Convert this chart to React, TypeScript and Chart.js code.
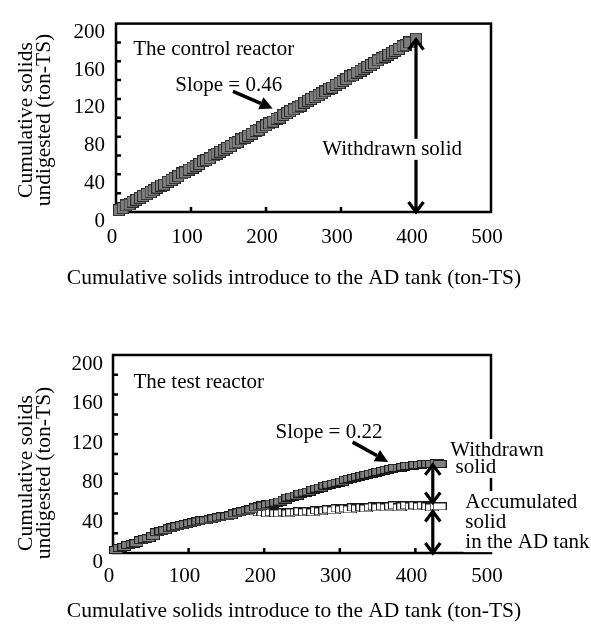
import React, { useEffect, useRef } from "react";
import { Chart, registerables } from "chart.js";

Chart.register(...registerables);

// ---------- data ----------
const controlX = [4, 9, 13, 18, 22, 27, 32, 36, 41, 46, 50, 55, 60, 64, 69, 74, 78, 83, 88, 92, 97, 102, 106, 111, 116, 120, 125, 130, 134, 139, 144, 148, 153, 158, 162, 167, 172, 176, 181, 186, 190, 195, 200, 204, 209, 214, 218, 223, 228, 232, 237, 242, 246, 251, 256, 260, 265, 270, 274, 279, 284, 288, 293, 298, 302, 307, 312, 316, 321, 326, 330, 335, 340, 344, 349, 354, 358, 363, 368, 372, 377, 382, 386, 391, 400];
const controlY = [2, 4, 7, 8, 11, 13, 15, 17, 19, 21, 23, 26, 28, 29, 32, 34, 36, 38, 41, 42, 45, 47, 49, 51, 54, 55, 57, 60, 62, 64, 66, 68, 70, 73, 74, 77, 79, 81, 83, 86, 87, 90, 92, 94, 96, 99, 100, 103, 105, 107, 109, 111, 113, 116, 118, 120, 122, 124, 126, 128, 131, 132, 135, 137, 139, 141, 144, 145, 148, 150, 152, 154, 156, 158, 161, 163, 165, 167, 169, 171, 173, 176, 177, 180, 184];

const testX = [4, 9, 15, 20, 26, 31, 37, 42, 47, 53, 58, 64, 69, 75, 80, 85, 91, 96, 102, 107, 113, 118, 123, 129, 134, 140, 145, 151, 156, 161, 167, 172, 178, 183, 189, 194, 199, 205, 210, 216, 221, 227, 232, 237, 243, 248, 254, 259, 265, 270, 275, 281, 286, 292, 297, 303, 308, 313, 319, 324, 330, 335, 341, 346, 351, 357, 362, 368, 373, 379, 384, 389, 395, 400, 406, 411, 417, 422, 428, 432];
const testWithdrawnY = [3, 5, 6, 8, 9, 10, 13, 14, 15, 17, 21, 22, 23, 25, 26, 27, 28, 29, 30, 31, 32, 33, 33, 34, 35, 36, 37, 37, 38, 40, 41, 42, 43, 44, 46, 47, 48, 49, 50, 51, 52, 54, 56, 57, 58, 60, 61, 62, 64, 65, 66, 68, 69, 70, 71, 72, 74, 75, 76, 77, 78, 79, 80, 81, 82, 83, 84, 85, 86, 86, 87, 88, 88, 89, 89, 90, 90, 90, 91, 90];
const testAccumY = [3, 5, 6, 8, 9, 10, 13, 14, 15, 17, 21, 22, 23, 25, 26, 27, 28, 29, 30, 31, 32, 33, 33, 34, 35, 36, 37, 37, 38, 40, 41, 42, 43, 43, 42, 41, 41, 40, 41, 40, 40, 41, 40, 41, 41, 42, 41, 42, 41, 43, 42, 43, 44, 43, 45, 44, 45, 44, 46, 45, 46, 45, 46, 47, 46, 47, 46, 47, 48, 46, 47, 48, 47, 48, 47, 48, 47, 46, 47, 47];

const xTicks = [0, 100, 200, 300, 400, 500];
const yTicks = [0, 40, 80, 120, 160, 200];
const yMinorTicks = [20, 40, 60, 80, 100, 120, 140, 160, 180];
const xMinorTicks = [100, 200, 300, 400];

const xTitle = "Cumulative solids introduce to the AD tank (ton-TS)";
const yTitle = ["Cumulative solids", "undigested (ton-TS)"];

const FONT = "'Liberation Serif', 'Times New Roman', serif";
const FS = 21;
const TITLE_FS = 21.5;

// annotations in data coordinates
const topAnnotations = [
  { type: "arrow", x1: 156, y1: 128, x2: 209, y2: 110, style: "solid" },
  { type: "arrow", x1: 400, y1: 183, x2: 400, y2: 0, style: "double" },
  { type: "text", x: 23, y: 172, text: "The control reactor" },
  { type: "text", x: 79, y: 134, text: "Slope = 0.46" },
  { type: "text", x: 275, y: 66, text: "Withdrawn solid", bg: true },
];
const bottomAnnotations = [
  { type: "text", x: 215, y: 122, text: "Slope = 0.22" },
  { type: "arrow", x1: 317, y1: 112, x2: 364, y2: 92, style: "solid" },
  { type: "arrow", x1: 423, y1: 89, x2: 423, y2: 51, style: "double" },
  { type: "arrow", x1: 423, y1: 42, x2: 423, y2: 0, style: "double" },
  { type: "text", x: 27, y: 172, text: "The test reactor" },
  { type: "text", x: 446, y: 104, text: "Withdrawn", bg: true },
  { type: "text", x: 453, y: 86, text: "solid", bg: true },
  { type: "text", x: 466, y: 51.5, text: "Accumulated", bg: true },
  { type: "text", x: 466, y: 31, text: "solid", bg: true },
  { type: "text", x: 466, y: 11, text: "in the AD tank", bg: true },
];

// ---------- helpers ----------
function makeMarker(w: number, h: number, fill: string, stroke: string) {
  const c = document.createElement("canvas");
  c.width = w;
  c.height = h;
  const g = c.getContext("2d")!;
  g.fillStyle = fill;
  g.fillRect(0, 0, w, h);
  g.strokeStyle = stroke;
  g.lineWidth = 1;
  g.strokeRect(0.5, 0.5, w - 1, h - 1);
  return c;
}

const boxPlugin = {
  id: "box",
  beforeDatasetsDraw(chart: any) {
    const { ctx, chartArea: a, scales } = chart;
    const x = scales.x;
    const y = scales.y;
    ctx.save();
    ctx.strokeStyle = "#000";
    ctx.lineWidth = 2.5;
    ctx.strokeRect(a.left, a.top, a.right - a.left, a.bottom - a.top);
    ctx.lineWidth = 2.5;
    ctx.beginPath();
    for (const v of yMinorTicks) {
      const py = y.getPixelForValue(v);
      ctx.moveTo(a.left, py);
      ctx.lineTo(a.left + 5, py);
    }
    for (const v of xMinorTicks) {
      const px = x.getPixelForValue(v);
      ctx.moveTo(px, a.bottom);
      ctx.lineTo(px, a.bottom - 5);
    }
    ctx.stroke();
    ctx.restore();
  },
  afterDatasetsDraw(chart: any, _args: any, opts: any) {
    const { ctx, scales } = chart;
    const x = scales.x;
    const y = scales.y;
    const anns = (opts && opts.items) || [];
    ctx.save();
    ctx.strokeStyle = "#000";
    ctx.fillStyle = "#000";
    for (const an of anns) {
      if (an.type !== "arrow") continue;
      const x1 = x.getPixelForValue(an.x1);
      const y1 = y.getPixelForValue(an.y1);
      const x2 = x.getPixelForValue(an.x2);
      const y2 = y.getPixelForValue(an.y2);
      const ang = Math.atan2(y2 - y1, x2 - x1);
      if (an.style === "solid") {
        const L = 13;
        const W = 6.5;
        const bx = x2 - L * Math.cos(ang);
        const by = y2 - L * Math.sin(ang);
        ctx.lineWidth = 3.5;
        ctx.beginPath();
        ctx.moveTo(x1, y1);
        ctx.lineTo(bx, by);
        ctx.stroke();
        ctx.beginPath();
        ctx.moveTo(x2, y2);
        ctx.lineTo(bx + W * Math.sin(ang), by - W * Math.cos(ang));
        ctx.lineTo(bx - W * Math.sin(ang), by + W * Math.cos(ang));
        ctx.closePath();
        ctx.fill();
      } else {
        ctx.lineWidth = 3.2;
        ctx.lineJoin = "miter";
        ctx.beginPath();
        ctx.moveTo(x1, y1);
        ctx.lineTo(x2, y2);
        ctx.stroke();
        const head = (tx: number, ty: number, a: number) => {
          const L = 10;
          const W = 7.5;
          const bx = tx - L * Math.cos(a);
          const by = ty - L * Math.sin(a);
          ctx.beginPath();
          ctx.moveTo(bx + W * Math.sin(a), by - W * Math.cos(a));
          ctx.lineTo(tx, ty);
          ctx.lineTo(bx - W * Math.sin(a), by + W * Math.cos(a));
          ctx.stroke();
        };
        head(x2, y2, ang);
        head(x1, y1, ang + Math.PI);
      }
    }
    ctx.font = `${FS}px ${FONT}`;
    ctx.textBaseline = "middle";
    ctx.textAlign = "left";
    for (const an of anns) {
      if (an.type !== "text") continue;
      const px = x.getPixelForValue(an.x);
      const py = y.getPixelForValue(an.y);
      if (an.bg) {
        const w = ctx.measureText(an.text).width;
        ctx.fillStyle = "#fff";
        ctx.fillRect(px - 2, py - 11, w + 4, 21);
      }
      ctx.fillStyle = "#000";
      ctx.fillText(an.text, px, py);
    }
    // axis titles (drawn here so they are not squeezed / can be placed freely)
    ctx.fillStyle = "#000";
    ctx.textAlign = "center";
    ctx.textBaseline = "middle";
    if (opts && opts.xTitle) {
      ctx.font = `${TITLE_FS}px ${FONT}`;
      ctx.fillText(opts.xTitle.text, opts.xTitle.cx, opts.xTitle.cy);
    }
    if (opts && opts.yTitle) {
      const t = opts.yTitle;
      ctx.font = `${TITLE_FS}px ${FONT}`;
      ctx.save();
      ctx.translate(t.cx, t.cy);
      ctx.rotate(-Math.PI / 2);
      t.lines.forEach((line: string, i: number) => {
        ctx.fillText(line, 0, i * t.lineGap);
      });
      ctx.restore();
    }
    ctx.restore();
  },
};

function buildConfig(
  datasets: any[],
  anns: any[],
  layout: { top: number; yWidth: number; xHeight: number; xTickPad: number; titleY: number; yTitleY: number; yTickPad: number }
) {
  const tickFont = { family: FONT, size: FS };
  return {
    type: "scatter",
    data: { datasets },
    options: {
      animation: false,
      responsive: false,
      events: [],
      layout: { padding: { top: layout.top, right: 100, left: 0, bottom: 0 } },
      plugins: {
        legend: { display: false },
        tooltip: { enabled: false },
        box: {
          items: anns,
          xTitle: { text: xTitle, cx: 294, cy: layout.titleY },
          yTitle: { lines: yTitle, cx: 26, cy: layout.yTitleY, lineGap: 18 },
        },
      },
      scales: {
        x: {
          type: "linear",
          min: 0,
          max: 500,
          grid: { display: false, drawTicks: false },
          border: { display: false },
          afterBuildTicks: (s: any) => {
            s.ticks = xTicks.map((v) => ({ value: v }));
          },
          ticks: {
            padding: layout.xTickPad,
            labelOffset: -4,
            maxRotation: 0,
            font: tickFont,
            color: "#000",
          },
          title: { display: false },
          afterFit: (s: any) => {
            s.height = layout.xHeight;
          },
        },
        y: {
          type: "linear",
          min: 0,
          max: 200,
          grid: { display: false, drawTicks: false },
          border: { display: false },
          afterBuildTicks: (s: any) => {
            s.ticks = yTicks.map((v) => ({ value: v }));
          },
          ticks: {
            padding: layout.yTickPad,
            labelOffset: 9,
            font: tickFont,
            color: "#000",
          },
          title: { display: false },
          afterFit: (s: any) => {
            s.width = layout.yWidth;
          },
        },
      },
    },
    plugins: [boxPlugin],
  };
}

export default function App() {
  const ref1 = useRef<HTMLCanvasElement>(null);
  const ref2 = useRef<HTMLCanvasElement>(null);

  useEffect(() => {
    const mTop = makeMarker(12, 12, "#7c7c7c", "#2a2a2a");
    const mFilled = makeMarker(14, 8, "#808080", "#1a1a1a");
    const mOpen = makeMarker(14, 8, "#ffffff", "#1a1a1a");

    const c1 = new Chart(
      ref1.current!,
      buildConfig(
        [
          {
            data: controlX.map((x, i) => ({ x, y: controlY[i] })),
            pointStyle: mTop,
            pointRadius: 6,
            showLine: false,
            clip: false,
          },
        ],
        topAnnotations,
        { top: 14, yWidth: 116, xHeight: 103, xTickPad: 13, titleY: 278, yTitleY: 120, yTickPad: 11 }
      ) as any
    );
    const c2 = new Chart(
      ref2.current!,
      buildConfig(
        [
          {
            data: testX.map((x, i) => ({ x, y: testWithdrawnY[i] })),
            pointStyle: mFilled,
            pointRadius: 6,
            showLine: false,
            clip: false,
          },
          {
            data: testX.map((x, i) => ({ x, y: testAccumY[i] })),
            pointStyle: mOpen,
            pointRadius: 6,
            showLine: false,
            clip: false,
          },
        ],
        bottomAnnotations,
        { top: 40, yWidth: 113, xHeight: 76, xTickPad: 11, titleY: 296, yTitleY: 473 - 315, yTickPad: 10 }
      ) as any
    );
    return () => {
      c1.destroy();
      c2.destroy();
    };
  }, []);

  return (
    <div style={{ position: "absolute", left: 0, top: 0, width: 591, height: 629, background: "#fff" }}>
      <canvas
        ref={ref1}
        width={591}
        height={315}
        style={{ position: "absolute", left: 0, top: 0, width: 591, height: 315 }}
      />
      <canvas
        ref={ref2}
        width={591}
        height={314}
        style={{ position: "absolute", left: 0, top: 315, width: 591, height: 314 }}
      />
    </div>
  );
}
